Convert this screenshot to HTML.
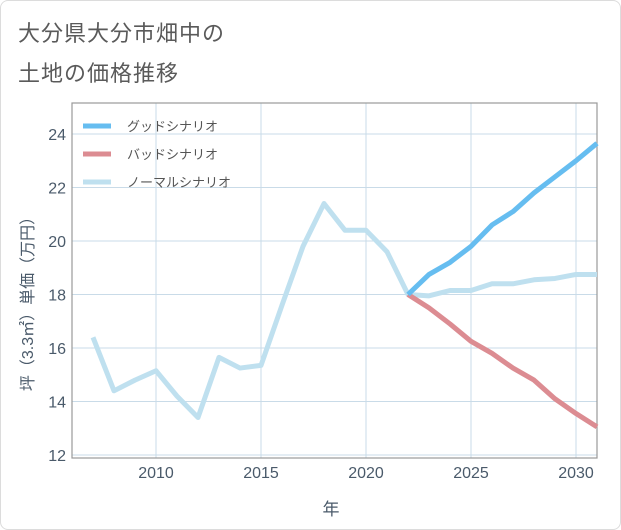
<!DOCTYPE html>
<html><head><meta charset="utf-8">
<style>
body{margin:0;background:#fff;font-family:"Liberation Sans","Noto Sans CJK JP",sans-serif;}
#wrap{position:relative;width:619px;height:528px;overflow:hidden;background:#fff;border:1px solid #dcdcdc;border-radius:8px;}
.title{position:absolute;left:17px;font-size:22px;color:#5a5a5a;letter-spacing:1px;}
</style></head><body>
<div id="wrap">
<div class="title" style="top:15px">大分県大分市畑中の</div>
<div class="title" style="top:55px">土地の価格推移</div>
<svg id="chart" width="621" height="530" style="position:absolute;left:-1px;top:-1px"></svg>
</div>
<script>
const normalYears=[2007,2008,2009,2010,2011,2012,2013,2014,2015,2016,2017,2018,2019,2020,2021,2022,2023,2024,2025,2026,2027,2028,2029,2030,2031];
const normalValues=[16.4,14.4,14.8,15.15,14.2,13.4,15.65,15.25,15.35,17.6,19.8,21.4,20.4,20.4,19.6,18.0,17.95,18.15,18.15,18.4,18.4,18.55,18.6,18.75,18.75];
const goodYears=[2022,2023,2024,2025,2026,2027,2028,2029,2030,2031];
const goodValues=[18.0,18.75,19.2,19.8,20.6,21.1,21.8,22.4,23.0,23.65];
const badYears=[2022,2023,2024,2025,2026,2027,2028,2029,2030,2031];
const badValues=[18.0,17.5,16.9,16.25,15.8,15.25,14.8,14.1,13.55,13.05];
const xTicks=[2010,2015,2020,2025,2030];
const yTicks=[12,14,16,18,20,22,24];
const legendLabels=["グッドシナリオ","バッドシナリオ","ノーマルシナリオ"];
const L=72,R=597,T=103,B=458;
const x=v=>L+(v-2006)*(R-L)/25;
const y=v=>455-(v-12)*(455-134)/12;
const svg=document.getElementById('chart');
const NS='http://www.w3.org/2000/svg';
function mk(t,a){const e=document.createElementNS(NS,t);for(const k in a)e.setAttribute(k,a[k]);svg.appendChild(e);return e;}
let e;
e=mk('rect',{x:L,y:T,width:R-L,height:B-T,fill:'#fff',stroke:'none'});


xTicks.forEach(t=>{
 e=mk('line',{x1:x(t),x2:x(t),y1:T,y2:B,stroke:'#c9dbe8','stroke-width':1});
 
 
 e=mk('text',{x:x(t),y:478,'text-anchor':'middle','font-size':16,fill:'#4a5a6a'});e.textContent=t;
 
 
});
yTicks.forEach(t=>{
 e=mk('line',{x1:L,x2:R,y1:y(t),y2:y(t),stroke:'#c9dbe8','stroke-width':1});
 
 
 e=mk('text',{x:L-6,y:y(t)+6,'text-anchor':'end','font-size':16,fill:'#4a5a6a'});e.textContent=t;
 
 
});
e=mk('rect',{x:L,y:T,width:R-L,height:B-T,fill:'none',stroke:'#999','stroke-width':1.2});


function line(xs,vs,c,n){
 e=mk('polyline',{points:xs.map((v,i)=>x(v)+','+y(vs[i])).join(' '),fill:'none',stroke:c,'stroke-width':5,'stroke-linejoin':'round'});
 
 
}
line(normalYears,normalValues,'#bfe0ef','normal-scenario-line');
line(badYears,badValues,'#dc8c92','bad-scenario-line');
line(goodYears,goodValues,'#66bdf0','good-scenario-line');
const lc=['#66bdf0','#dc8c92','#bfe0ef'];
legendLabels.forEach((s,i)=>{
 const yy=126+i*28;
 e=mk('line',{x1:83,x2:111,y1:yy,y2:yy,stroke:lc[i],'stroke-width':5});
 
 
 e=mk('text',{x:127,y:yy+5,'font-size':13,fill:'#555'});e.textContent=s;
 
 
});
e=mk('text',{x:331,y:515,'text-anchor':'middle','font-size':17,fill:'#4a5a6a'});e.textContent='年';


e=mk('text',{x:0,y:0,'text-anchor':'middle','font-size':16,fill:'#4a5a6a',transform:'translate(33,300) rotate(-90)'});e.textContent='坪（3.3㎡）単価（万円）';


</script>
</body></html>
